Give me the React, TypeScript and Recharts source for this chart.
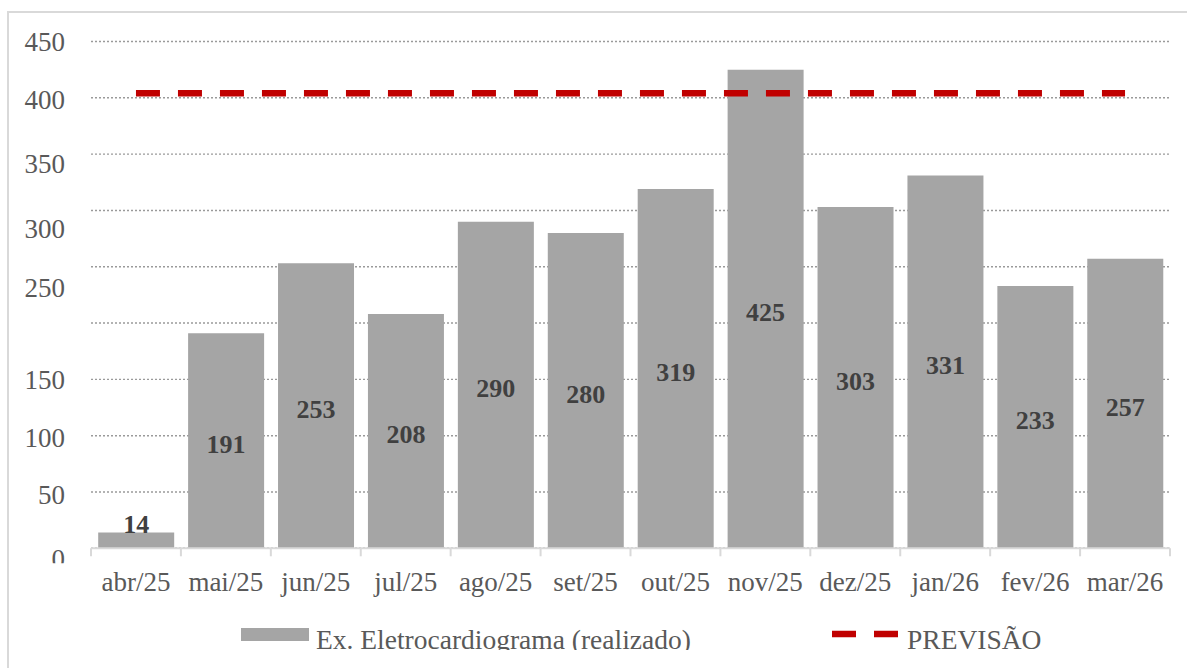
import React from 'react';
import { ComposedChart, Bar, Line, XAxis, YAxis, CartesianGrid, Legend, LabelList } from 'recharts';

// ---- data ----
const MONTHS = ['abr/25', 'mai/25', 'jun/25', 'jul/25', 'ago/25', 'set/25', 'out/25', 'nov/25', 'dez/25', 'jan/26', 'fev/26', 'mar/26'];
const REALIZADO = [14, 191, 253, 208, 290, 280, 319, 425, 303, 331, 233, 257];
const PREVISAO = [404, 404, 404, 404, 404, 404, 404, 404, 404, 404, 404, 404];
const Y_TICKS = [0, 50, 100, 150, 200, 250, 300, 350, 400, 450];
const Y_TICK_LABELS = ['0', '50', '100', '150', '', '250', '300', '350', '400', '450'];
const NAME_REALIZADO = 'Ex. Eletrocardiograma (realizado)';
const NAME_PREVISAO = 'PREVISÃO';

const data = MONTHS.map((m, i) => ({ month: m, realizado: REALIZADO[i], previsao: PREVISAO[i] }));

// ---- styles ----
const FONT = "'Liberation Serif', 'Times New Roman', serif";
const TEXT_COLOR = '#595959';
const BAR_COLOR = '#a5a5a5';
const LINE_COLOR = '#c00000';
const AXIS_COLOR = '#d9d9d9';
const GRID_COLOR = '#9a9a9a';
// vertical shift of each y label relative to its gridline (as in the reference)
const Y_LABEL_SHIFT: Record<number, number> = { 0: 11, 50: 3, 100: 2, 150: 1, 200: 0, 250: 21, 300: 18, 350: 9.5, 400: 2.3, 450: 0 };
const LEGEND_LEFT = [241, 832];

const YTick = (props: any) => {
  const { x, y, payload, index } = props;
  const idx = Y_TICKS.indexOf(payload.value);
  const label = idx >= 0 ? Y_TICK_LABELS[idx] : String(payload.value);
  const shift = Y_LABEL_SHIFT[payload.value] ?? 0;
  const clip = payload.value === 0;
  const id = `yclip-${index}`;
  return (
    <g>
      {clip && (
        <defs>
          <clipPath id={id}>
            <rect x={0} y={y - 100} width={x + 20} height={115} />
          </clipPath>
        </defs>
      )}
      <text
        x={x}
        y={y + shift + 9.1}
        textAnchor="end"
        fill={TEXT_COLOR}
        fontSize={27}
        fontFamily={FONT}
        clipPath={clip ? `url(#${id})` : undefined}
      >
        {label}
      </text>
    </g>
  );
};

const XTick = (props: any) => {
  const { x, y, payload, index, visibleTicksCount, width } = props;
  const half = payload && typeof payload.offset === 'number' && payload.offset > 0 ? payload.offset : width / visibleTicksCount / 2;
  const top = y - 8;
  return (
    <g>
      <line x1={x - half} x2={x - half} y1={top} y2={y} stroke={AXIS_COLOR} strokeWidth={2} />
      {index === visibleTicksCount - 1 && (
        <line x1={x + half} x2={x + half} y1={top} y2={y} stroke={AXIS_COLOR} strokeWidth={2} />
      )}
      <text x={x} y={y + 35} textAnchor="middle" fill={TEXT_COLOR} fontSize={27} fontFamily={FONT}>
        {payload.value}
      </text>
    </g>
  );
};

const BarValueLabel = (props: any) => {
  const { x, y, width, height, value } = props;
  const cx = Number(x) + Number(width) / 2;
  const h = Number(height);
  const inside = h > 40;
  const ty = inside ? Number(y) + h / 2 + 12 : Number(y);
  return (
    <text x={cx} y={ty} textAnchor="middle" fontSize={26} fontWeight="bold" fill="#404040" fontFamily={FONT}>
      {value}
    </text>
  );
};

const LegendContent = () => (
  <div style={{ position: 'relative', width: 1187, height: 50, fontFamily: FONT }}>
    <div style={{ position: 'absolute', left: LEGEND_LEFT[0], top: 0, display: 'flex', alignItems: 'flex-start' }}>
      <div style={{ width: 68, height: 13.4, background: BAR_COLOR, marginTop: 19.3 }} />
      <span style={{ marginLeft: 7, fontSize: 27.5, lineHeight: '30px', marginTop: 16.7, color: TEXT_COLOR, whiteSpace: 'nowrap' }}>
        {NAME_REALIZADO}
      </span>
    </div>
    <div style={{ position: 'absolute', left: LEGEND_LEFT[1], top: 0, display: 'flex', alignItems: 'flex-start' }}>
      <svg width={66} height={8} style={{ marginTop: 21.5, display: 'block' }}>
        <line x1={0} x2={66} y1={4} y2={4} stroke={LINE_COLOR} strokeWidth={6.5} strokeDasharray="24 18" />
      </svg>
      <span style={{ marginLeft: 9, fontSize: 27.5, lineHeight: '30px', marginTop: 16.7, color: TEXT_COLOR, whiteSpace: 'nowrap' }}>
        {NAME_PREVISAO}
      </span>
    </div>
  </div>
);

export default function App() {
  return (
    <div style={{ position: 'fixed', left: 0, top: 0, width: 1187, height: 668, overflow: 'hidden', background: '#ffffff' }}>
      <div
        style={{
          position: 'absolute',
          left: 7,
          top: 11,
          width: 1300,
          height: 800,
          border: `2px solid ${AXIS_COLOR}`,
          boxSizing: 'border-box',
        }}
      />
      <div style={{ position: 'absolute', left: 0, top: 0, width: 1187, height: 650, overflow: 'hidden' }}>
        <ComposedChart
          width={1187}
          height={668}
          data={data}
          margin={{ top: 41.5, right: 17, bottom: 9.7, left: 0 }}
          barCategoryGap="8%"
        >
          <CartesianGrid vertical={false} stroke={GRID_COLOR} strokeDasharray="2 2" strokeWidth={1.4} />
          <XAxis
            dataKey="month"
            height={60}
            tickSize={8}
            tickMargin={0}
            tickLine={false}
            axisLine={{ stroke: AXIS_COLOR, strokeWidth: 2 }}
            tick={<XTick />}
            interval={0}
          />
          <YAxis
            width={91}
            domain={[0, 450]}
            ticks={Y_TICKS}
            interval={0}
            axisLine={false}
            tickLine={false}
            tickSize={0}
            tickMargin={26}
            tick={<YTick />}
          />
          <Legend verticalAlign="bottom" width={1187} height={50} wrapperStyle={{ left: 0 }} content={<LegendContent />} />
          <Bar dataKey="realizado" name={NAME_REALIZADO} fill={BAR_COLOR} isAnimationActive={false}>
            <LabelList dataKey="realizado" content={<BarValueLabel />} />
          </Bar>
          <Line
            dataKey="previsao"
            name={NAME_PREVISAO}
            stroke={LINE_COLOR}
            strokeWidth={6.5}
            strokeDasharray="24 18"
            dot={false}
            activeDot={false}
            isAnimationActive={false}
          />
        </ComposedChart>
      </div>
    </div>
  );
}
